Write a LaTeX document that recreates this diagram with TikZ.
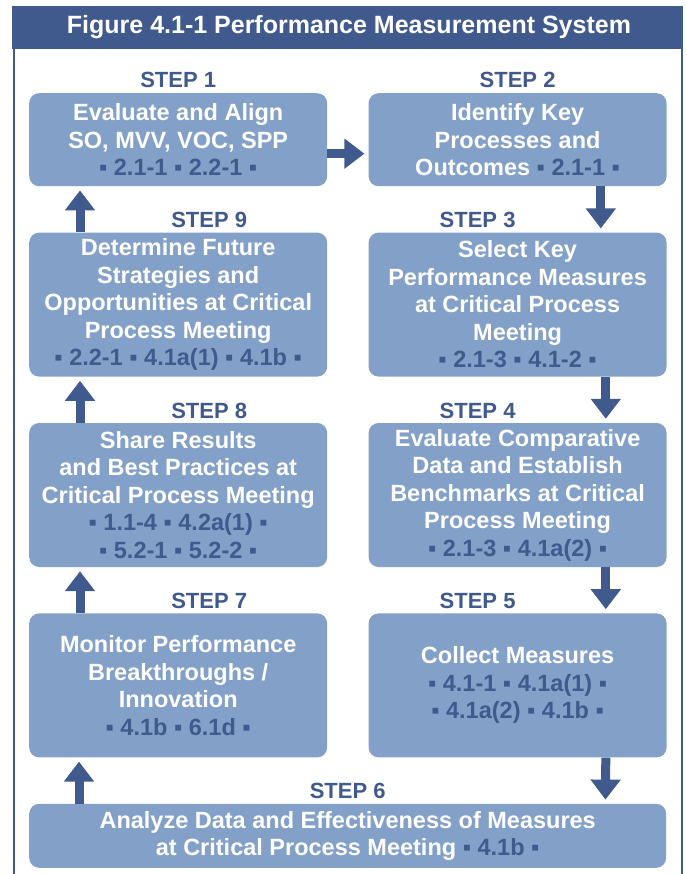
\documentclass[tikz,border=0pt]{standalone}
\usepackage{fontspec}
\setmainfont{Liberation Sans}
\usepackage{xcolor}
\usetikzlibrary{positioning, arrows.meta}

\definecolor{navy}{HTML}{405A8E}
\definecolor{steel}{HTML}{82A0C8}
\newcommand{\refs}[1]{\textcolor{navy}{#1}}

\begin{document}
\begin{tikzpicture}[node distance=46pt and 41pt,
  stepbox/.style={rectangle, rounded corners=10pt, fill=steel, text=white, align=center,
    minimum width=298pt, minimum height=144pt, inner sep=0pt,
    font=\fontsize{23.5}{27.5}\selectfont\bfseries},
  steplabel/.style={text=navy, inner sep=1pt, font=\fontsize{22}{24}\selectfont\bfseries},
  flow/.style={draw=navy, line width=9pt, -{Triangle[width=29pt, length=20pt]}, shorten >=4pt}]
  \useasboundingbox (0,0) rectangle (686pt,-874pt);

  % frame and title
  \draw[navy, line width=2pt] (14pt,-874pt) -- (14pt,-40pt) (682pt,-40pt) -- (682pt,-874pt);
  \fill[navy] (12pt,-6pt) rectangle (683pt,-49pt);
  \node[text=white, font=\fontsize{25}{28}\selectfont\bfseries] (title) at (349pt,-27.5pt)
    {Figure 4.1-1 Performance Measurement System};

  % steps
  \node[stepbox, minimum height=93pt, anchor=north west] (s1) at (29pt,-93pt)
    {Evaluate and Align\\SO, MVV, VOC, SPP\\\refs{▪ 2.1-1 ▪ 2.2-1 ▪}};
  \node[stepbox, minimum height=93pt] (s2) [right=of s1]
    {Identify Key\\Processes and\\Outcomes \refs{▪ 2.1-1 ▪}};
  \node[stepbox] (s9) [below=of s1]
    {Determine Future\\Strategies and\\Opportunities at Critical\\Process Meeting\\\refs{▪ 2.2-1 ▪ 4.1a(1) ▪ 4.1b ▪}};
  \node[stepbox] (s3) [below=of s2]
    {Select Key\\Performance Measures\\at Critical Process\\Meeting\\\refs{▪ 2.1-3 ▪ 4.1-2 ▪}};
  \node[stepbox] (s8) [below=of s9]
    {Share Results\\and Best Practices at\\Critical Process Meeting\\\refs{▪ 1.1-4 ▪ 4.2a(1) ▪}\\\refs{▪ 5.2-1 ▪ 5.2-2 ▪}};
  \node[stepbox] (s4) [below=of s3]
    {Evaluate Comparative\\Data and Establish\\Benchmarks at Critical\\Process Meeting\\\refs{▪ 2.1-3 ▪ 4.1a(2) ▪}};
  \node[stepbox] (s7) [below=of s8]
    {Monitor Performance\\Breakthroughs /\\Innovation\\\refs{▪ 4.1b ▪ 6.1d ▪}};
  \node[stepbox] (s5) [below=of s4]
    {Collect Measures\\\refs{▪ 4.1-1 ▪ 4.1a(1) ▪}\\\refs{▪ 4.1a(2) ▪ 4.1b ▪}};
  \node[stepbox, minimum width=637pt, minimum height=64pt] (s6) [below=of s7.south west, anchor=north west]
    {Analyze Data and Effectiveness of Measures\\at Critical Process Meeting \refs{▪ 4.1b ▪}};

  % step labels
  \node[steplabel, above=4pt of s1] {STEP 1};
  \node[steplabel, above=4pt of s2] {STEP 2};
  \node[steplabel, above=3pt of s9, xshift=31pt] {STEP 9};
  \node[steplabel, above=3pt of s3, xshift=-40pt] {STEP 3};
  \node[steplabel, above=3pt of s8, xshift=31pt] {STEP 8};
  \node[steplabel, above=3pt of s4, xshift=-40pt] {STEP 4};
  \node[steplabel, above=3pt of s7, xshift=31pt] {STEP 7};
  \node[steplabel, above=3pt of s5, xshift=-40pt] {STEP 5};
  \node[steplabel, above=4pt of s6] {STEP 6};

  % arrows
  \path
    ([yshift=-14pt]s1.east) edge[flow] ([yshift=-14pt]s2.west)
    ([xshift=-66pt]s2.south east) edge[flow] ([xshift=-66pt]s3.north east)
    ([xshift=-61pt]s3.south east) edge[flow] ([xshift=-61pt]s4.north east)
    ([xshift=-61pt]s4.south east) edge[flow] ([xshift=-61pt]s5.north east)
    ([xshift=-61pt]s5.south east) edge[flow] ([xshift=-61pt]s6.north east)
    ([xshift=50pt]s6.north west) edge[flow] ([xshift=50pt]s7.south west)
    ([xshift=51pt]s7.north west) edge[flow] ([xshift=51pt]s8.south west)
    ([xshift=51pt]s8.north west) edge[flow] ([xshift=51pt]s9.south west)
    ([xshift=51pt]s9.north west) edge[flow] ([xshift=51pt]s1.south west);
\end{tikzpicture}
\end{document}
